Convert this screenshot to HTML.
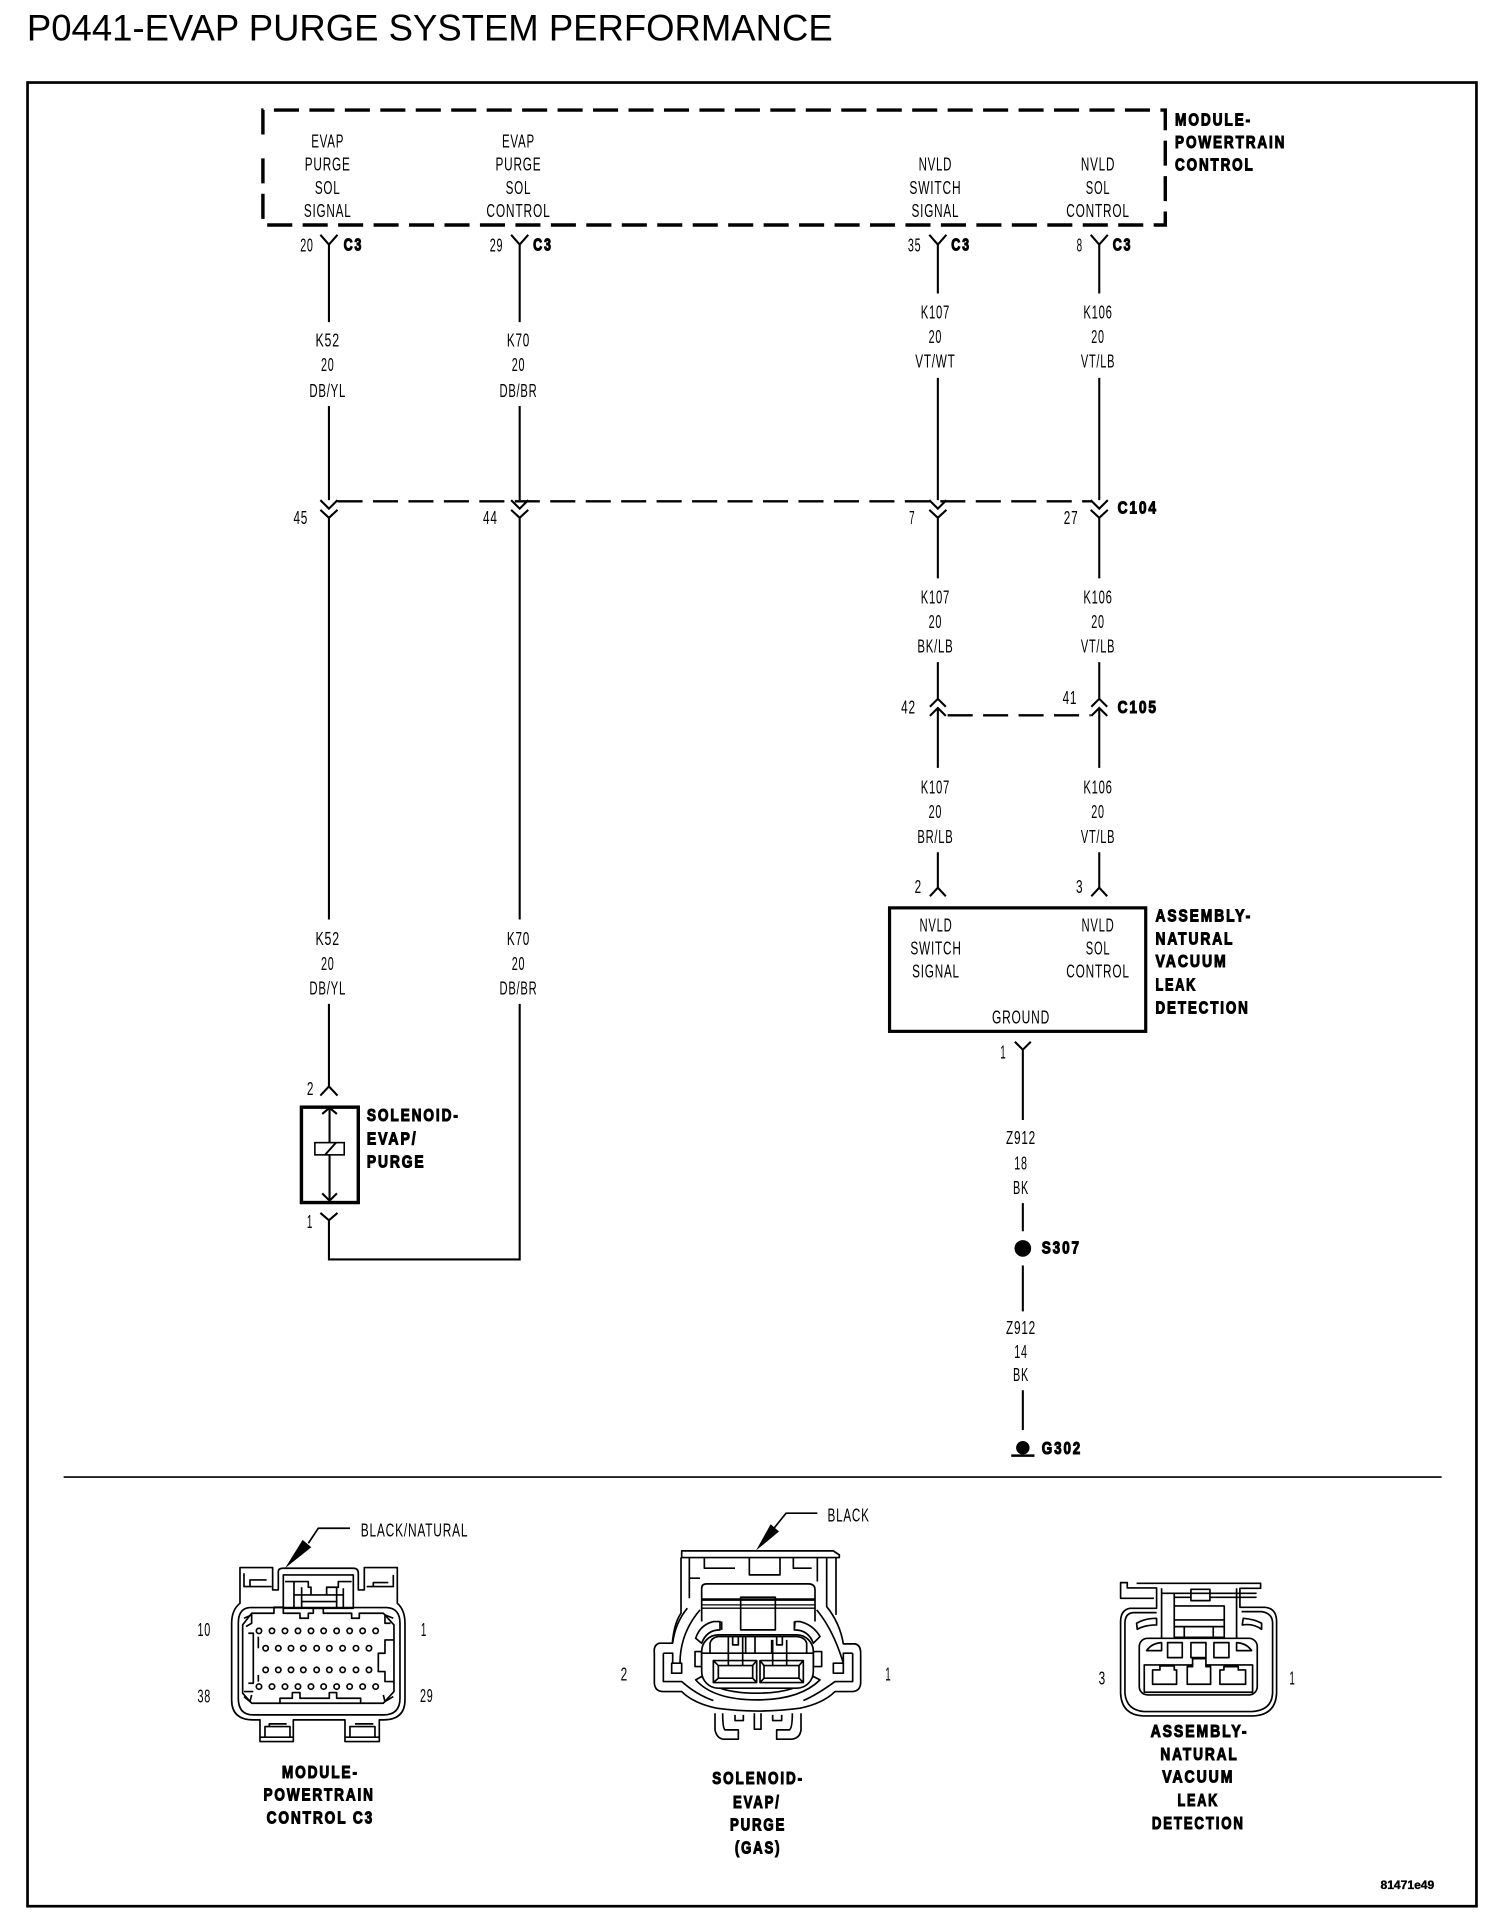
<!DOCTYPE html>
<html><head><meta charset="utf-8"><title>P0441-EVAP PURGE SYSTEM PERFORMANCE</title>
<style>
html,body{margin:0;padding:0;background:#fff}
svg{display:block}
text{fill:#000;font-family:"Liberation Sans",sans-serif}
.s{font-size:15px;text-anchor:middle;letter-spacing:1px}
.b{font-size:14.5px;font-weight:bold;stroke:#000;stroke-width:.9px;letter-spacing:2px}
.c{text-anchor:middle}
.w{fill:none;stroke:#000;stroke-width:1.7}
.d{fill:none;stroke:#000;stroke-width:2;stroke-dasharray:20.5 8.5}
.g{fill:none;stroke:#000;stroke-width:5;stroke-linejoin:round}
.g2{fill:#fff;stroke:#000;stroke-width:5;stroke-linejoin:round}
</style></head><body>
<svg width="1504" height="1916" viewBox="0 0 1230 1567" xmlns="http://www.w3.org/2000/svg">
<rect width="1230" height="1567" fill="#fff"/>
<text x="22" y="33" font-size="30" textLength="659" lengthAdjust="spacingAndGlyphs">P0441-EVAP PURGE SYSTEM PERFORMANCE</text>
<rect x="22.5" y="67.5" width="1185" height="1491.5" fill="none" stroke="#000" stroke-width="2.2"/>
<path d="M215,110V90H953V184H215V125" fill="none" stroke="#000" stroke-width="2.8" stroke-dasharray="20.5 8.5"/>

<!-- PCM pin names -->
<text class="s" x="268" y="120.5" textLength="27" lengthAdjust="spacingAndGlyphs">EVAP</text>
<text class="s" x="268" y="139.5" textLength="37.5" lengthAdjust="spacingAndGlyphs">PURGE</text>
<text class="s" x="268" y="158.5" textLength="21" lengthAdjust="spacingAndGlyphs">SOL</text>
<text class="s" x="268" y="177.5" textLength="39" lengthAdjust="spacingAndGlyphs">SIGNAL</text>
<text class="s" x="424" y="120.5" textLength="27" lengthAdjust="spacingAndGlyphs">EVAP</text>
<text class="s" x="424" y="139.5" textLength="37.5" lengthAdjust="spacingAndGlyphs">PURGE</text>
<text class="s" x="424" y="158.5" textLength="21" lengthAdjust="spacingAndGlyphs">SOL</text>
<text class="s" x="424" y="177.5" textLength="52.5" lengthAdjust="spacingAndGlyphs">CONTROL</text>
<text class="s" x="765" y="139.5" textLength="27.5" lengthAdjust="spacingAndGlyphs">NVLD</text>
<text class="s" x="765" y="158.5" textLength="42.5" lengthAdjust="spacingAndGlyphs">SWITCH</text>
<text class="s" x="765" y="177.5" textLength="39" lengthAdjust="spacingAndGlyphs">SIGNAL</text>
<text class="s" x="898" y="139.5" textLength="28" lengthAdjust="spacingAndGlyphs">NVLD</text>
<text class="s" x="898" y="158.5" textLength="20" lengthAdjust="spacingAndGlyphs">SOL</text>
<text class="s" x="898" y="177.5" textLength="52" lengthAdjust="spacingAndGlyphs">CONTROL</text>
<text class="b" x="961" y="102.5" textLength="63" lengthAdjust="spacingAndGlyphs">MODULE-</text>
<text class="b" x="961" y="121" textLength="91" lengthAdjust="spacingAndGlyphs">POWERTRAIN</text>
<text class="b" x="961" y="139.5" textLength="65" lengthAdjust="spacingAndGlyphs">CONTROL</text>

<!-- wires and connectors -->
<g class="w">
<path d="M262,192L269,200L276,192M269,200V263.5M269,332V409M262,409L269,416L276,409M262,417L269,423.5L276,417M269,423.5V752M269,821V888M262,896L269,888.5L276,896M262,992L269,998L276,992"/>
<path d="M418,192L425,200L432,192M425,200V263.5M425,332V409M418,409L425,416L432,409M418,417L425,423.5L432,417M425,423.5V752M425,821V1030H269V998"/>
<path d="M760,192L767,200L774,192M767,200V240M767,309V409M760,409L767,416L774,409M760,417L767,423.5L774,417M767,423.5V473M767,541.5V571M760.5,578L767,571.5L773.5,578M760.5,585.5L767,579L773.5,585.5M767,579V628M767,697V726M760.5,733L767,726L773.5,733"/>
<path d="M892,192L899,200L906,192M899,200V240M899,309V409M892,409L899,416L906,409M892,417L899,423.5L906,417M899,423.5V473M899,541.5V571M892.5,578L899,571.5L905.5,578M892.5,585.5L899,579L905.5,585.5M899,579V628M899,697V726M892.5,733L899,726L905.5,733"/>
<path d="M830,852L836.5,858.5L843,852M836.5,858.5V916M836.5,984V1007M836.5,1035V1072.5M836.5,1137V1169.5"/>
</g>
<path class="d" d="M276,410H893"/>
<path class="d" d="M775,585H892"/>
<path d="M52,1208H1179" stroke="#000" stroke-width="1.3"/>

<text class="s" x="251" y="205.5" textLength="11" lengthAdjust="spacingAndGlyphs">20</text>
<text class="s" x="406" y="205.5" textLength="11" lengthAdjust="spacingAndGlyphs">29</text>
<text class="s" x="748" y="205.5" textLength="11" lengthAdjust="spacingAndGlyphs">35</text>
<text class="s" x="883" y="205.5" textLength="5" lengthAdjust="spacingAndGlyphs">8</text>
<text class="b" x="281" y="205" textLength="16" lengthAdjust="spacingAndGlyphs">C3</text>
<text class="b" x="436" y="205" textLength="16" lengthAdjust="spacingAndGlyphs">C3</text>
<text class="b" x="778" y="205" textLength="16" lengthAdjust="spacingAndGlyphs">C3</text>
<text class="b" x="910" y="205" textLength="16" lengthAdjust="spacingAndGlyphs">C3</text>

<text class="s" x="268" y="283.5" textLength="20" lengthAdjust="spacingAndGlyphs">K52</text>
<text class="s" x="268" y="303.5" textLength="11" lengthAdjust="spacingAndGlyphs">20</text>
<text class="s" x="268" y="324.5" textLength="30" lengthAdjust="spacingAndGlyphs">DB/YL</text>
<text class="s" x="424" y="283.5" textLength="19" lengthAdjust="spacingAndGlyphs">K70</text>
<text class="s" x="424" y="303.5" textLength="11" lengthAdjust="spacingAndGlyphs">20</text>
<text class="s" x="424" y="324.5" textLength="31" lengthAdjust="spacingAndGlyphs">DB/BR</text>
<text class="s" x="765" y="260.5" textLength="24" lengthAdjust="spacingAndGlyphs">K107</text>
<text class="s" x="765" y="280.5" textLength="11" lengthAdjust="spacingAndGlyphs">20</text>
<text class="s" x="765" y="300.5" textLength="33" lengthAdjust="spacingAndGlyphs">VT/WT</text>
<text class="s" x="898" y="260.5" textLength="24" lengthAdjust="spacingAndGlyphs">K106</text>
<text class="s" x="898" y="280.5" textLength="11" lengthAdjust="spacingAndGlyphs">20</text>
<text class="s" x="898" y="300.5" textLength="28" lengthAdjust="spacingAndGlyphs">VT/LB</text>

<text class="s" x="246" y="428.5" textLength="12" lengthAdjust="spacingAndGlyphs">45</text>
<text class="s" x="401" y="428.5" textLength="12" lengthAdjust="spacingAndGlyphs">44</text>
<text class="s" x="746" y="428.5" textLength="5" lengthAdjust="spacingAndGlyphs">7</text>
<text class="s" x="876" y="428.5" textLength="12" lengthAdjust="spacingAndGlyphs">27</text>
<text class="b" x="914" y="420" textLength="33" lengthAdjust="spacingAndGlyphs">C104</text>

<text class="s" x="765" y="493.5" textLength="24" lengthAdjust="spacingAndGlyphs">K107</text>
<text class="s" x="765" y="513.5" textLength="11" lengthAdjust="spacingAndGlyphs">20</text>
<text class="s" x="765" y="533.5" textLength="29.5" lengthAdjust="spacingAndGlyphs">BK/LB</text>
<text class="s" x="898" y="493.5" textLength="24" lengthAdjust="spacingAndGlyphs">K106</text>
<text class="s" x="898" y="513.5" textLength="11" lengthAdjust="spacingAndGlyphs">20</text>
<text class="s" x="898" y="533.5" textLength="28" lengthAdjust="spacingAndGlyphs">VT/LB</text>
<text class="s" x="743" y="583.5" textLength="12" lengthAdjust="spacingAndGlyphs">42</text>
<text class="s" x="875" y="575.8" textLength="12" lengthAdjust="spacingAndGlyphs">41</text>
<text class="b" x="914" y="583" textLength="33" lengthAdjust="spacingAndGlyphs">C105</text>
<text class="s" x="765" y="649" textLength="24" lengthAdjust="spacingAndGlyphs">K107</text>
<text class="s" x="765" y="669" textLength="11" lengthAdjust="spacingAndGlyphs">20</text>
<text class="s" x="765" y="689.5" textLength="29.5" lengthAdjust="spacingAndGlyphs">BR/LB</text>
<text class="s" x="898" y="649" textLength="24" lengthAdjust="spacingAndGlyphs">K106</text>
<text class="s" x="898" y="669" textLength="11" lengthAdjust="spacingAndGlyphs">20</text>
<text class="s" x="898" y="689.5" textLength="28" lengthAdjust="spacingAndGlyphs">VT/LB</text>
<text class="s" x="751" y="730.5" textLength="6" lengthAdjust="spacingAndGlyphs">2</text>
<text class="s" x="883" y="730.5" textLength="6" lengthAdjust="spacingAndGlyphs">3</text>

<!-- lower K52 / K70 labels -->
<text class="s" x="268" y="773" textLength="20" lengthAdjust="spacingAndGlyphs">K52</text>
<text class="s" x="268" y="793.5" textLength="11" lengthAdjust="spacingAndGlyphs">20</text>
<text class="s" x="268" y="813.5" textLength="30" lengthAdjust="spacingAndGlyphs">DB/YL</text>
<text class="s" x="424" y="773" textLength="19" lengthAdjust="spacingAndGlyphs">K70</text>
<text class="s" x="424" y="793.5" textLength="11" lengthAdjust="spacingAndGlyphs">20</text>
<text class="s" x="424" y="813.5" textLength="31" lengthAdjust="spacingAndGlyphs">DB/BR</text>

<!-- NVLD assembly -->
<rect x="727.5" y="742.5" width="209.5" height="101" fill="none" stroke="#000" stroke-width="2.6"/>
<text class="s" x="765.5" y="762" textLength="27" lengthAdjust="spacingAndGlyphs">NVLD</text>
<text class="s" x="765.5" y="780.5" textLength="42" lengthAdjust="spacingAndGlyphs">SWITCH</text>
<text class="s" x="765.5" y="799.3" textLength="39" lengthAdjust="spacingAndGlyphs">SIGNAL</text>
<text class="s" x="898" y="762" textLength="27" lengthAdjust="spacingAndGlyphs">NVLD</text>
<text class="s" x="898" y="780.5" textLength="20" lengthAdjust="spacingAndGlyphs">SOL</text>
<text class="s" x="898" y="799.3" textLength="52" lengthAdjust="spacingAndGlyphs">CONTROL</text>
<text class="s" x="835" y="837" textLength="47.5" lengthAdjust="spacingAndGlyphs">GROUND</text>
<text class="b" x="945" y="753.5" textLength="79" lengthAdjust="spacingAndGlyphs">ASSEMBLY-</text>
<text class="b" x="945" y="772.5" textLength="64.5" lengthAdjust="spacingAndGlyphs">NATURAL</text>
<text class="b" x="945" y="791" textLength="59" lengthAdjust="spacingAndGlyphs">VACUUM</text>
<text class="b" x="945" y="810" textLength="34" lengthAdjust="spacingAndGlyphs">LEAK</text>
<text class="b" x="945" y="829" textLength="77" lengthAdjust="spacingAndGlyphs">DETECTION</text>
<text class="s" x="820.5" y="865.5" textLength="5" lengthAdjust="spacingAndGlyphs">1</text>

<!-- Z912 -->
<text class="s" x="835" y="935.5" textLength="24.5" lengthAdjust="spacingAndGlyphs">Z912</text>
<text class="s" x="835" y="956.5" textLength="11" lengthAdjust="spacingAndGlyphs">18</text>
<text class="s" x="835" y="976.5" textLength="13" lengthAdjust="spacingAndGlyphs">BK</text>
<circle cx="836.5" cy="1021" r="6.8"/>
<text class="b" x="852" y="1025.3" textLength="32" lengthAdjust="spacingAndGlyphs">S307</text>
<text class="s" x="835" y="1091" textLength="24.5" lengthAdjust="spacingAndGlyphs">Z912</text>
<text class="s" x="835" y="1110.5" textLength="11" lengthAdjust="spacingAndGlyphs">14</text>
<text class="s" x="835" y="1129.5" textLength="13" lengthAdjust="spacingAndGlyphs">BK</text>
<circle cx="836.5" cy="1184" r="5.5"/>
<path d="M827,1190.5H846" stroke="#000" stroke-width="2"/>
<text class="b" x="852" y="1189.3" textLength="33" lengthAdjust="spacingAndGlyphs">G302</text>

<!-- Solenoid -->
<rect x="246.5" y="905.5" width="46.5" height="78" fill="none" stroke="#000" stroke-width="2.8"/>
<path class="w" d="M269.5,906V982M263.5,911L269.5,906L275.5,911M263.5,976L269.5,982L275.5,976"/>
<rect x="257.5" y="934.5" width="24" height="10" fill="#fff" stroke="#000" stroke-width="1.3"/>
<path d="M265.8,944.5L274.8,934.5" stroke="#000" stroke-width="1.6"/>
<text class="s" x="254" y="895.5" textLength="6" lengthAdjust="spacingAndGlyphs">2</text>
<text class="s" x="253.5" y="1004.5" textLength="5" lengthAdjust="spacingAndGlyphs">1</text>
<text class="b" x="300" y="917" textLength="76" lengthAdjust="spacingAndGlyphs">SOLENOID-</text>
<text class="b" x="300" y="936" textLength="41.5" lengthAdjust="spacingAndGlyphs">EVAP/</text>
<text class="b" x="300" y="955" textLength="48" lengthAdjust="spacingAndGlyphs">PURGE</text>

<!-- PCM C3 connector view -->
<g transform="translate(139,1226.7) scale(.2726)">
<path class="g" d="M415,130L445,85H540"/>
<path d="M345,205L398,120L424,142Z"/>
<path class="g" d="M210,310V203H308V270H325V215Q325,205 340,205H550Q565,205 565,220V270H583V203H682V310Q705,330 705,370V600Q705,660 640,660H628V725H525V660H370V725H270V660H250Q185,660 185,600V370Q185,330 210,310Z"/>
<path class="g" d="M240,323H650Q690,325 690,370V595Q690,645 640,645H250Q205,645 205,595V370Q205,325 240,323Z"/>
<path class="g" d="M245,340H312V322H340V340H390V355H415V340H430V325H460V340H545V355H568V340H640L672,375V575L640,610H245L218,580V375Z"/>
<path class="g" d="M340,225H550V325H340ZM345,245H372V325M372,245H415V262H423V285H470V262H505V245H545M395,262V322M500,262V322M372,285H520M395,305H500M520,265V322"/>
<path class="g" d="M222,220V260H305M590,260H670V225M240,262V240H290M610,262V248H655"/>
<path class="g" d="M235,400H250V550H235M672,420H645V460H625V515H645V545H672M265,410V445M265,525V545M250,575H222M330,608V595H367V578H390V595H478V578H500V595H572V608"/>
<path class="g" d="M285,680H360V712H285ZM298,680V672H350M540,680H615V712H540ZM555,672H610M270,712H370M525,712H628M222,355L245,345V370L228,380M670,355L645,345V370L662,370M222,590L240,605L245,585M670,590L645,605L640,585"/>
<g class="g">
<circle cx="267" cy="393" r="8"/><circle cx="306" cy="393" r="8"/><circle cx="345" cy="393" r="8"/><circle cx="384" cy="393" r="8"/><circle cx="423" cy="393" r="8"/><circle cx="461" cy="393" r="8"/><circle cx="500" cy="393" r="8"/><circle cx="539" cy="393" r="8"/><circle cx="578" cy="393" r="8"/><circle cx="617" cy="393" r="8"/>
<circle cx="287" cy="445" r="8"/><circle cx="325" cy="445" r="8"/><circle cx="363" cy="445" r="8"/><circle cx="400" cy="445" r="8"/><circle cx="440" cy="445" r="8"/><circle cx="478" cy="445" r="8"/><circle cx="518" cy="445" r="8"/><circle cx="558" cy="445" r="8"/><circle cx="597" cy="445" r="8"/>
<circle cx="287" cy="510" r="8"/><circle cx="325" cy="510" r="8"/><circle cx="363" cy="510" r="8"/><circle cx="400" cy="510" r="8"/><circle cx="440" cy="510" r="8"/><circle cx="478" cy="510" r="8"/><circle cx="518" cy="510" r="8"/><circle cx="558" cy="510" r="8"/><circle cx="597" cy="510" r="8"/>
<circle cx="267" cy="560" r="8"/><circle cx="306" cy="560" r="8"/><circle cx="345" cy="560" r="8"/><circle cx="384" cy="560" r="8"/><circle cx="423" cy="560" r="8"/><circle cx="461" cy="560" r="8"/><circle cx="500" cy="560" r="8"/><circle cx="539" cy="560" r="8"/><circle cx="578" cy="560" r="8"/><circle cx="617" cy="560" r="8"/>
</g>
</g>
<text class="s" x="339" y="1256.5" textLength="88" lengthAdjust="spacingAndGlyphs">BLACK/NATURAL</text>
<text class="s" x="167" y="1338" textLength="11" lengthAdjust="spacingAndGlyphs">10</text>
<text class="s" x="346.7" y="1338" textLength="5" lengthAdjust="spacingAndGlyphs">1</text>
<text class="s" x="167" y="1392.5" textLength="11" lengthAdjust="spacingAndGlyphs">38</text>
<text class="s" x="349" y="1392" textLength="11" lengthAdjust="spacingAndGlyphs">29</text>
<text class="b c" x="262" y="1454.3" textLength="63" lengthAdjust="spacingAndGlyphs">MODULE-</text>
<text class="b c" x="261" y="1472.5" textLength="91" lengthAdjust="spacingAndGlyphs">POWERTRAIN</text>
<text class="b c" x="262" y="1491.5" textLength="88" lengthAdjust="spacingAndGlyphs">CONTROL C3</text>

<!-- Solenoid connector view -->
<g transform="translate(490.7,1218.5) scale(.2726)">
<path class="g" d="M522,115L558,70H652"/>
<path d="M468,182L512,103L537,125Z"/>
<path class="g" d="M245,183H700L718,195V203H245Z"/>
<path class="g" d="M243,203V370Q222,400 217,460H178Q160,465 163,490V580Q165,605 190,605H245Q280,640 350,655Q470,672 600,655Q670,640 705,605H755Q780,605 782,580V490Q782,465 765,462H730Q720,400 680,350V203M708,203V375"/>
<path class="g" d="M268,203V325M268,265H300M652,203V275M313,203V235H405M448,203V255H540V203M580,203V235H635"/>
<path class="g" d="M305,395V295Q305,282 320,282H625Q645,282 645,300V395"/>
<path d="M305,325H645V333H305ZM305,343H645V347H305ZM305,353H645V357H305Z"/>
<path class="g" d="M422,322H526V420H422ZM365,395V420M583,395V420"/>
<path class="g2" d="M360,395H340Q300,405 287,445L305,460Q320,420 360,420ZM585,395H600Q640,405 660,440L640,460Q625,420 583,420Z"/>
<path class="g" d="M287,570Q340,630 470,630Q600,630 660,570L640,560Q590,610 470,610Q350,610 305,560Z"/>
<path class="g" d="M218,460Q225,400 262,355M240,520Q240,430 300,360M730,520Q700,420 650,360M190,490H218V520M190,490V575H245Q290,615 340,632M758,490H730V520M758,490V575H705Q650,615 610,632"/>
<path class="g" d="M215,520H245V550H215ZM700,520H730V550H700ZM285,485H305V530H285ZM640,485H665V530H640Z"/>
<rect class="g2" x="305" y="435" width="335" height="160" rx="50"/>
<path class="g" d="M305,490H640M330,490V460Q335,442 355,440H590Q615,442 620,460V490M385,440V527M428,440V527M518,450V527M560,450V527M398,440V465H415V440M530,440V465H547V440M437,440V490M465,440V490H515V450"/>
<path class="g" d="M340,512H470V578H340ZM480,512H610V578H480ZM355,527H458V565H355ZM492,527H597V565H492ZM340,512L355,527M340,578L355,565M470,512L458,527M470,578L458,565M480,512L492,527M480,578L492,565M610,512L597,527M610,578L597,565"/>
<path class="g" d="M345,670V720Q350,745 370,748H415V720H375Q368,715 368,670M603,670V720Q600,745 575,748H530V720H568Q577,715 577,670M463,670V718H483V670M405,675V692H430V675M518,675V692H545V675"/>
</g>
<text class="s" x="694" y="1244.5" textLength="34.5" lengthAdjust="spacingAndGlyphs">BLACK</text>
<text class="s" x="510.6" y="1374.5" textLength="6" lengthAdjust="spacingAndGlyphs">2</text>
<text class="s" x="726.5" y="1374.5" textLength="5" lengthAdjust="spacingAndGlyphs">1</text>
<text class="b c" x="620" y="1459" textLength="75" lengthAdjust="spacingAndGlyphs">SOLENOID-</text>
<text class="b c" x="619" y="1478.5" textLength="39" lengthAdjust="spacingAndGlyphs">EVAP/</text>
<text class="b c" x="620" y="1497" textLength="46" lengthAdjust="spacingAndGlyphs">PURGE</text>
<text class="b c" x="620" y="1516" textLength="38" lengthAdjust="spacingAndGlyphs">(GAS)</text>

<!-- NVLD connector view -->
<g transform="translate(883.2,1275.8) scale(.2726)">
<path class="g" d="M170,70H542V85H480V142H555Q590,145 590,185V400Q587,465 520,468H190Q125,465 122,400V185Q122,150 150,145H230V84H142V68H122V115H222"/>
<path class="g" d="M230,158H160Q135,160 135,190V400Q140,452 195,455H515Q575,452 578,400V190Q578,160 545,155H485"/>
<path class="g" d="M245,85V235M470,85V235M245,100H530M283,112H333M390,112H530M283,100V138M333,88H390V122H333Z"/>
<path class="g" d="M283,138H433V232H283ZM283,180H433M283,200H433M313,200V232M400,200V232"/>
<path class="g" d="M170,190Q195,175 230,175V195Q195,195 172,208ZM490,175Q525,178 545,190V208Q520,190 487,195Z"/>
<rect class="g" x="178" y="235" width="354" height="170" rx="25"/>
<path class="g" d="M200,272Q215,250 245,248V272ZM263,248H307V293H263ZM333,248H378V293H333ZM402,248H447V293H402ZM470,248Q500,250 515,272H470Z"/>
<path class="g" d="M338,315H193V397H518V315H378M218,373V330H240V318H283V330H290V373ZM322,373V320H338V296H378V320H392V373ZM420,373V330H432V320H475V330H497V373Z"/>
</g>
<text class="s" x="901.5" y="1377.5" textLength="6" lengthAdjust="spacingAndGlyphs">3</text>
<text class="s" x="1057" y="1377.5" textLength="5" lengthAdjust="spacingAndGlyphs">1</text>
<text class="b c" x="981" y="1420.5" textLength="80" lengthAdjust="spacingAndGlyphs">ASSEMBLY-</text>
<text class="b c" x="981" y="1439.5" textLength="64" lengthAdjust="spacingAndGlyphs">NATURAL</text>
<text class="b c" x="980" y="1458" textLength="59" lengthAdjust="spacingAndGlyphs">VACUUM</text>
<text class="b c" x="980" y="1477" textLength="34" lengthAdjust="spacingAndGlyphs">LEAK</text>
<text class="b c" x="980" y="1496" textLength="76" lengthAdjust="spacingAndGlyphs">DETECTION</text>
<text x="1151" y="1545" font-size="9.5" font-weight="bold" text-anchor="middle" textLength="44" lengthAdjust="spacingAndGlyphs" stroke="#000" stroke-width=".3">81471e49</text>
</svg>
</body></html>
